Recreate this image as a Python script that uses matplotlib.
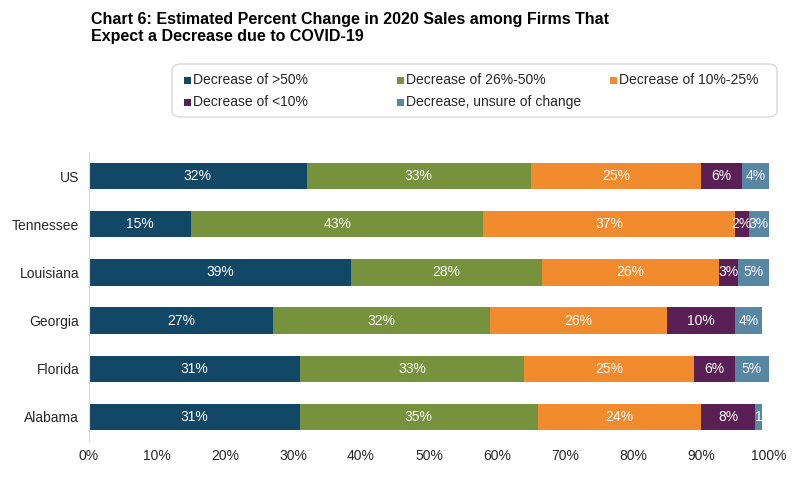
import matplotlib.pyplot as plt
from matplotlib.patches import FancyBboxPatch, Rectangle

plt.rcParams['font.family'] = ['Liberation Sans', 'DejaVu Sans']

states = ['Alabama', 'Florida', 'Georgia', 'Louisiana', 'Tennessee', 'US']
series_names = ['Decrease of >50%', 'Decrease of 26%-50%', 'Decrease of 10%-25%',
                'Decrease of <10%', 'Decrease, unsure of change']
colors = ['#124766', '#76923C', '#F28A2E', '#5A1F54', '#5787A3']

# values per series, in the order of states (bottom to top)
over_50 = [31, 31, 27, 38.6, 15, 32]
dec_26_50 = [35, 33, 32, 28.0, 43, 33]
dec_10_25 = [24, 25, 26, 26.0, 37, 25]
under_10 = [8, 6, 10, 2.8, 2, 6]
unsure = [1, 5, 4, 4.6, 3, 4]
series = [over_50, dec_26_50, dec_10_25, under_10, unsure]

# the 1% label on Alabama is cut off in the original
label_override = {(4, 0): '1'}

W, H = 802, 478
fig = plt.figure(figsize=(W / 100, H / 100), dpi=100)
ax = fig.add_axes([89 / W, 1 - 441 / H, (769 - 89) / W, (441 - 152) / H])

y = list(range(len(states)))
left = [0] * len(states)
for si, (vals, col) in enumerate(zip(series, colors)):
    bars = ax.barh(y, vals, left=left, height=0.55, color=col)
    for i, (b, v) in enumerate(zip(bars, vals)):
        txt = label_override.get((si, i), f'{v:.0f}%')
        ax.text(left[i] + v / 2, i, txt, ha='center', va='center',
                color='white', fontsize=10)
    left = [l + v for l, v in zip(left, vals)]

ax.set_xlim(0, 100)
ax.set_ylim(-0.5, len(states) - 0.5)
ax.set_yticks(y)
ax.set_yticklabels(states, fontsize=10, color='#262626')
ax.set_xticks(range(0, 101, 10))
ax.set_xticklabels([f'{t}%' for t in range(0, 101, 10)], fontsize=10, color='#262626')
ax.tick_params(length=0, pad=7)
ax.tick_params(axis='x', pad=6)
for s in ['top', 'right', 'bottom']:
    ax.spines[s].set_visible(False)
ax.spines['left'].set_color('#D9D9D9')

# title
fig.text(91 / W, 1 - 28 / H, 'Chart 6: Estimated Percent Change in 2020 Sales among Firms That\nExpect a Decrease due to COVID-19',
         fontsize=11.5, fontweight='bold', ha='left', va='center', linespacing=1.2)

# legend box
box = FancyBboxPatch((172 / W, 1 - 117 / H), (777 - 172) / W, (117 - 64) / H,
                     boxstyle='round,pad=0,rounding_size=0.012', transform=fig.transFigure,
                     facecolor='white', edgecolor='#D9D9D9', linewidth=1)
fig.patches.append(box)
col_x = [184, 397, 610]
row_y = [80, 102]
for k, (name, col) in enumerate(zip(series_names, colors)):
    cx = col_x[k % 3]
    cy = row_y[k // 3]
    fig.patches.append(Rectangle((cx / W, 1 - (cy + 3.5) / H), 7 / W, 7 / H,
                                 transform=fig.transFigure, facecolor=col, edgecolor='none'))
    fig.text((cx + 9) / W, 1 - cy / H, name, fontsize=10, ha='left', va='center', color='#262626')

fig.savefig('out.png', dpi=100)
